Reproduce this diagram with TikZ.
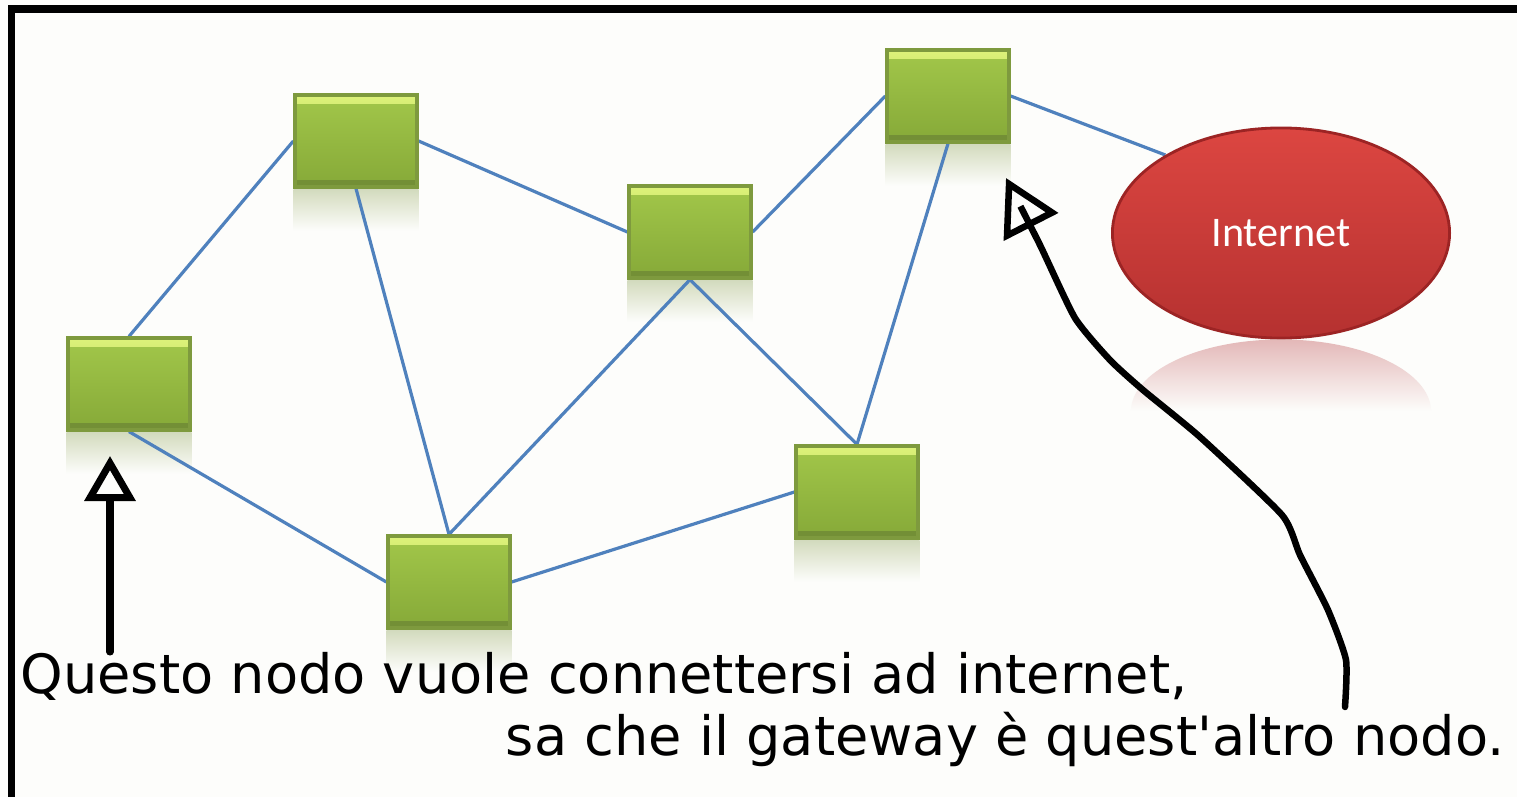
\documentclass[tikz,border=0pt]{standalone}
\usepackage{fontspec}
\usetikzlibrary{shapes.geometric,arrows.meta}
\newfontfamily\capfont{DejaVu Sans}
\newfontfamily\netfont{Carlito}

\definecolor{paper}{HTML}{FDFDFB}
\definecolor{boxhi}{HTML}{DDF27A}
\definecolor{boxtop}{HTML}{A2C74A}
\definecolor{boxbot}{HTML}{86A938}
\definecolor{boxdark}{HTML}{738F36}
\definecolor{boxline}{HTML}{7E9A3E}
\definecolor{boxrefl}{HTML}{D3DBBE}
\definecolor{netblue}{HTML}{4F81BD}
\definecolor{inettop}{HTML}{DC4641}
\definecolor{inetbot}{HTML}{B53130}
\definecolor{inetedge}{HTML}{9C2424}
\definecolor{inetrefl}{HTML}{E3B8B8}

\pgfdeclarelayer{back}
\pgfdeclarelayer{links}
\pgfsetlayers{back,links,main}

\begin{document}
\begin{tikzpicture}[x=0.01cm, y=-0.01cm,
		router/.style={rectangle, minimum width=1.22cm, minimum height=0.92cm, inner sep=0pt,
			draw=boxline, line width=0.9pt, top color=boxtop, bottom color=boxbot,
			path picture={
				\shade[top color=boxhi, bottom color=boxtop] (path picture bounding box.north west) rectangle ([yshift=-0.09cm]path picture bounding box.north east);
				\fill[boxdark] (path picture bounding box.south west) rectangle ([yshift=0.07cm]path picture bounding box.south east);
			}},
		link/.style={draw=netblue, line width=0.032cm},
		hand/.style={draw=black, line width=0.07cm, line cap=round, -{Triangle[open, length=0.45cm, width=0.5cm]}},
		caption/.style={inner sep=0pt, font=\capfont\fontsize{15.4}{18}\selectfont}]
	\useasboundingbox (0,0) rectangle (1517,797);
	\begin{pgfonlayer}{back}
		\fill[paper] (0,0) rectangle (1517,797);
	\end{pgfonlayer}

	\node[router] (nw) at (356,141) {};
	\node[router] (src) at (129,384) {};
	\node[router] (mid) at (690,232) {};
	\node[router] (gw) at (948,96) {};
	\node[router] (s) at (449,582) {};
	\node[router] (se) at (857,492) {};
	\node[ellipse, minimum width=3.37cm, minimum height=2.1cm, inner sep=0pt,
		draw=inetedge, line width=0.8pt, top color=inettop, bottom color=inetbot,
		text=white, font=\netfont\fontsize{12}{14}\selectfont] (inet) at (1281,233) {Internet};

	\begin{pgfonlayer}{back}
		\foreach \n in {nw,src,mid,gw,s,se}
			\shade[top color=boxrefl, bottom color=paper] ([yshift=-0.01cm]\n.south west) rectangle ([yshift=-0.42cm]\n.south east);
		\shade[top color=inetrefl, bottom color=paper]
			([xshift=-1.5cm, yshift=-0.72cm]inet.south) arc[start angle=180, end angle=0, x radius=1.5cm, y radius=0.72cm] -- cycle;
	\end{pgfonlayer}

	\begin{pgfonlayer}{links}
		\path[link] (src.north) -- (nw.west);
		\path[link] (nw.east) -- (mid.west);
		\path[link] (nw.south) -- (s.north);
		\path[link] (src.south) -- (s.west);
		\path[link] (mid.east) -- (gw.west);
		\path[link] (mid.south) -- (s.north);
		\path[link] (mid.south) -- (se.north);
		\path[link] (gw.south) -- (se.north);
		\path[link] (s.east) -- (se.west);
		\path[link] (gw.east) -- (inet.146);
	\end{pgfonlayer}

	\coordinate (srcfoot) at (110,652);
	\coordinate (srctip) at (110,456);
	\draw[hand] (srcfoot) -- (srctip);

	\coordinate (gwfoot) at (1345,707);
	\coordinate (gwtip) at (1006,178);
	\draw[hand, line width=0.065cm, -{Triangle[open, length=0.55cm, width=0.6cm]}] plot[smooth, tension=0.35] coordinates {(gwfoot) (1346,660) (1328,610) (1300,555) (1282,515) (1200,437) (1143,390) (1110,360) (1075,318) (1040,245) (gwtip)};

	\node[caption, anchor=base west] (ask) at (20,693) {Questo nodo vuole connettersi ad internet,};
	\node[caption, anchor=base east] (answer) at (1505,755) {sa che il gateway è quest\textquotesingle altro nodo.};

	\draw[line width=0.07cm] (11.5,797) -- (11.5,9) -- (1517,9);
\end{tikzpicture}
\end{document}
